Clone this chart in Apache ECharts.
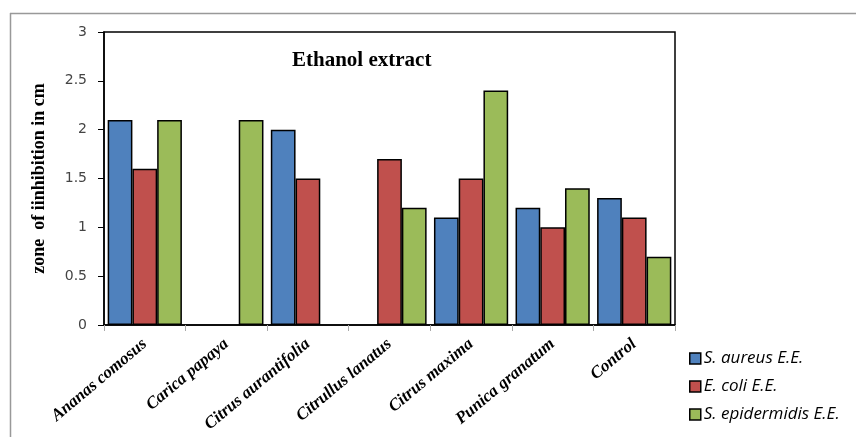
<!DOCTYPE html>
<html><head><meta charset="utf-8">
<script src="https://cdn.jsdelivr.net/npm/echarts@6/dist/echarts.min.js"></script>
<style>html,body{margin:0;padding:0;background:#fff}#c{width:856px;height:437px}</style>
</head><body><div id="c"></div>
<script>
const categories = ["Ananas comosus","Carica papaya","Citrus aurantifolia","Citrullus lanatus","Citrus maxima","Punica granatum","Control"];
const sAureus = [2.1, 0, 2.0, 0, 1.1, 1.2, 1.3];
const eColi = [1.6, 0, 1.5, 1.7, 1.5, 1.0, 1.1];
const sEpidermidis = [2.1, 2.1, 0, 1.2, 2.4, 1.4, 0.7];
const seriesNames = ["S. aureus E.E.","E. coli E.E.","S. epidermidis E.E."];
const yTicks = [0, 0.5, 1, 1.5, 2, 2.5, 3];

const chart = echarts.init(document.getElementById('c'));
const colors = ['#4F81BD','#C0504D','#9BBB59'];
const mk = (name, data, i) => ({
  name, type:'bar', data: data.map(v => v === 0 ? null : v),
  barGap:'0%', barCategoryGap:'9%',
  itemStyle:{color:colors[i], borderColor:'#000', borderWidth:1.5}
});
chart.setOption({
  animation:false,
  title:{text:'Ethanol extract', left:287, top:45,
    textStyle:{fontFamily:'Liberation Serif', fontWeight:'bold', fontSize:21, color:'#000'}},
  legend:{orient:'vertical', left:684, top:345, itemWidth:11, itemHeight:11, itemGap:11,
    icon:'rect',
    itemStyle:{borderColor:'#000', borderWidth:1.5},
    textStyle:{fontFamily:'Open Sans', fontStyle:'italic', fontSize:17, lineHeight:16, color:'#000', padding:[0,0,0,-2]}},
  grid:{left:104, top:32, width:571, height:293, show:true, borderColor:'#000', borderWidth:1.5, backgroundColor:'transparent'},
  xAxis:{type:'category', data:categories,
    axisLine:{lineStyle:{color:'#000', width:1.5}},
    axisTick:{show:true, length:6, lineStyle:{color:'#aaa'}},
    axisLabel:{rotate:40, interval:0, margin:17, fontFamily:'Liberation Serif', fontStyle:'italic', fontWeight:'bold', fontSize:17, color:'#000'}},
  yAxis:{type:'value', min:0, max:3, interval:0.5,
    name:'zone  of iinhibition in cm', nameLocation:'middle', nameGap:56,
    nameTextStyle:{fontFamily:'Liberation Serif', fontWeight:'bold', fontSize:18, color:'#000'},
    axisLine:{show:true, lineStyle:{color:'#000', width:1.5}},
    axisTick:{show:true, length:6, lineStyle:{color:'#000'}},
    splitLine:{show:false},
    axisLabel:{margin:17, fontFamily:'DejaVu Sans', fontSize:14, color:'#444',
      formatter: v => yTicks.includes(v) ? String(v) : ''}},
  graphic:[
    {type:'line', shape:{x1:10, y1:13.5, x2:856, y2:13.5}, style:{stroke:'#999', lineWidth:1.5}},
    {type:'line', shape:{x1:10.5, y1:13, x2:10.5, y2:437}, style:{stroke:'#999', lineWidth:1.5}}
  ],
  series:[mk(seriesNames[0], sAureus, 0), mk(seriesNames[1], eColi, 1), mk(seriesNames[2], sEpidermidis, 2)]
});
</script></body></html>
